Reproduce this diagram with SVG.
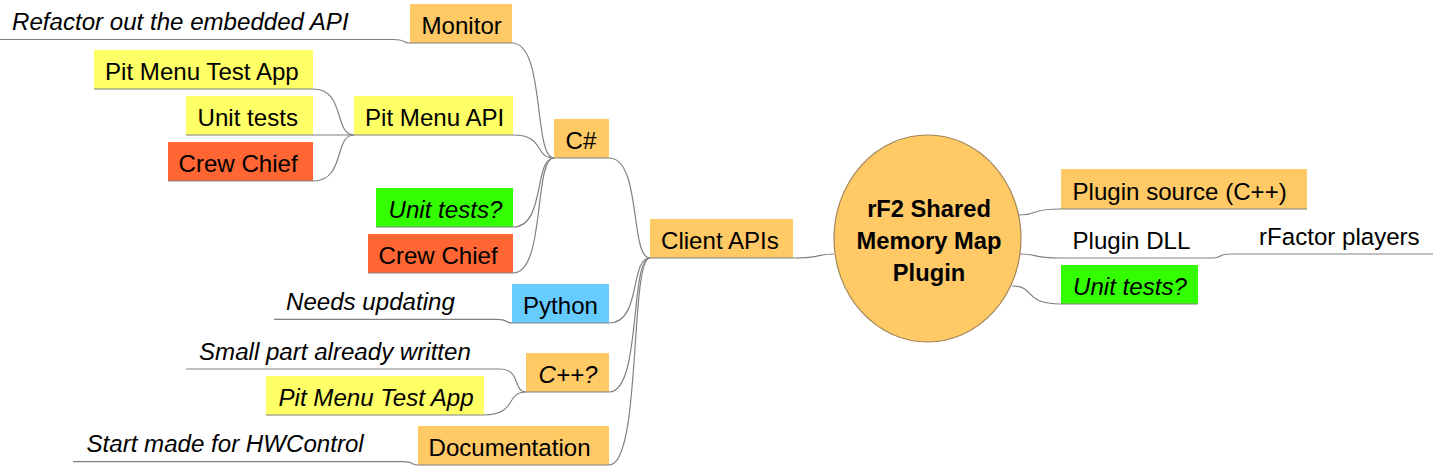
<svg xmlns="http://www.w3.org/2000/svg" width="1433" height="466" viewBox="0 0 1433 466">
<style>
text{font-family:"Liberation Sans",Arial,sans-serif;font-size:24.1px;fill:#000}
.i{font-style:italic}
.b{font-weight:bold;font-size:23.7px}
.ul{stroke:#808080;stroke-width:1.2;fill:none}
.e path{stroke:#808080;stroke-width:1.2;fill:none}
.or{fill:#FFC966}
.ye{fill:#FFFF66}
.rd{fill:#FF6633}
.gr{fill:#33FF00}
.bl{fill:#66CCFF}
</style>
<rect width="1433" height="466" fill="#fff"/>
<g id="connectors" class="e">
<path d="M393,39.5 C406.6,39.5 401.5,43 410,43"/>
<path d="M512,43 C545.6,43 533,158 554,158"/>
<path d="M513,135 C545.8,135 533.5,158 554,158"/>
<path d="M513,227 C545.8,227 533.5,158 554,158"/>
<path d="M513,273 C545.8,273 533.5,158 554,158"/>
<path d="M313,89 C345.8,89 333.5,135 354,135"/>
<path d="M313,135 L354,135"/>
<path d="M313,181 C345.8,181 333.5,135 354,135"/>
<path d="M609,158 C641.8,158 629.5,258 650,258"/>
<path d="M609,323 C641.8,323 629.5,258 650,258"/>
<path d="M609,392 C641.8,392 629.5,258 650,258"/>
<path d="M609,465 C641.8,465 629.5,258 650,258"/>
<path d="M497,319.3 C509,319.3 504.5,323 512,323"/>
<path d="M500,369 C520.8,369 513,392 526,392"/>
<path d="M484,415 C517.6,415 505,392 526,392"/>
<path d="M403,461.7 C415,461.7 410.5,465 418,465"/>
<path d="M793,258 C825.8,258 813.5,254 834,254"/>
<path d="M1061,209 C1027.4,209 1040,215 1019,215"/>
<path d="M1061,258 C1028.2,258 1040.5,254 1020,254"/>
<path d="M1061,304 C1021.8,304 1036.5,286 1012,286"/>
<path d="M1232,254 C1216.8,254 1222.5,258 1213,258"/>
</g>
<g id="refactor"><line class="ul" x1="0" y1="39.5" x2="393" y2="39.5"/><text class="i" x="12" y="30">Refactor out the embedded API</text></g>
<g id="monitor"><rect class="or" x="410" y="4" width="102" height="39"/><line class="ul" x1="410" y1="43" x2="512" y2="43"/><text x="421.5" y="33.5">Monitor</text></g>
<g id="pitmenutestapp"><rect class="ye" x="94" y="50" width="219" height="39"/><line class="ul" x1="94" y1="89" x2="313" y2="89"/><text x="105" y="79.5">Pit Menu Test App</text></g>
<g id="unittests"><rect class="ye" x="186" y="96" width="127" height="39"/><line class="ul" x1="186" y1="135" x2="313" y2="135"/><text x="197.5" y="125.5">Unit tests</text></g>
<g id="crewchief1"><rect class="rd" x="168" y="142" width="145" height="39"/><line class="ul" x1="168" y1="181" x2="313" y2="181"/><text x="178.5" y="171.5">Crew Chief</text></g>
<g id="pitmenuapi"><rect class="ye" x="354" y="96" width="159" height="39"/><line class="ul" x1="354" y1="135" x2="513" y2="135"/><text x="365" y="125.5">Pit Menu API</text></g>
<g id="csharp"><rect class="or" x="554" y="119" width="55" height="39"/><line class="ul" x1="554" y1="158" x2="609" y2="158"/><text x="565.5" y="148.5">C#</text></g>
<g id="unittestsq1"><rect class="gr" x="376" y="188" width="137" height="39"/><line class="ul" x1="376" y1="227" x2="513" y2="227"/><text class="i" x="388.5" y="217.5">Unit tests?</text></g>
<g id="crewchief2"><rect class="rd" x="368" y="234" width="145" height="39"/><line class="ul" x1="368" y1="273" x2="513" y2="273"/><text x="378.5" y="263.5">Crew Chief</text></g>
<g id="python"><rect class="bl" x="512" y="284" width="97" height="39"/><line class="ul" x1="512" y1="323" x2="609" y2="323"/><text x="523" y="313.5">Python</text></g>
<g id="needsupdating"><line class="ul" x1="274" y1="319.3" x2="497" y2="319.3"/><text class="i" x="286" y="310">Needs updating</text></g>
<g id="clientapis"><rect class="or" x="650" y="219" width="143" height="39"/><line class="ul" x1="650" y1="258" x2="793" y2="258"/><text x="661" y="248.5">Client APIs</text></g>
<g id="cpp"><rect class="or" x="526" y="353" width="83" height="39"/><line class="ul" x1="526" y1="392" x2="609" y2="392"/><text class="i" x="538.5" y="382.5">C++?</text></g>
<g id="smallpart"><line class="ul" x1="186" y1="369" x2="500" y2="369"/><text class="i" x="199" y="359.5">Small part already written</text></g>
<g id="pitmenutestapp2"><rect class="ye" x="266" y="376" width="218" height="39"/><line class="ul" x1="266" y1="415" x2="484" y2="415"/><text class="i" x="278.5" y="405.5">Pit Menu Test App</text></g>
<g id="documentation"><rect class="or" x="418" y="426" width="191" height="39"/><line class="ul" x1="418" y1="465" x2="609" y2="465"/><text x="428.5" y="455.5">Documentation</text></g>
<g id="startmade"><line class="ul" x1="73" y1="461.7" x2="403" y2="461.7"/><text class="i" x="86.5" y="452">Start made for HWControl</text></g>
<g id="root"><ellipse cx="927.5" cy="238.5" rx="93.5" ry="103.5" fill="#FFC966" stroke="#A08558" stroke-width="1.2"/>
<text class="b" x="929" y="217" text-anchor="middle">rF2 Shared</text>
<text class="b" x="929" y="249" text-anchor="middle">Memory Map</text>
<text class="b" x="929" y="281" text-anchor="middle">Plugin</text></g>
<g id="pluginsource"><rect class="or" x="1061" y="169" width="246" height="40"/><line class="ul" x1="1061" y1="209" x2="1307" y2="209"/><text x="1072.5" y="199.5">Plugin source (C++)</text></g>
<g id="plugindll"><line class="ul" x1="1061" y1="258" x2="1213" y2="258"/><text x="1072.5" y="248.5">Plugin DLL</text></g>
<g id="rfactorplayers"><line class="ul" x1="1232" y1="254" x2="1433" y2="254"/><text x="1259" y="244.5">rFactor players</text></g>
<g id="unittestsq2"><rect class="gr" x="1061" y="265" width="137" height="39"/><line class="ul" x1="1061" y1="304" x2="1198" y2="304"/><text class="i" x="1073" y="294.5">Unit tests?</text></g>
</svg>
